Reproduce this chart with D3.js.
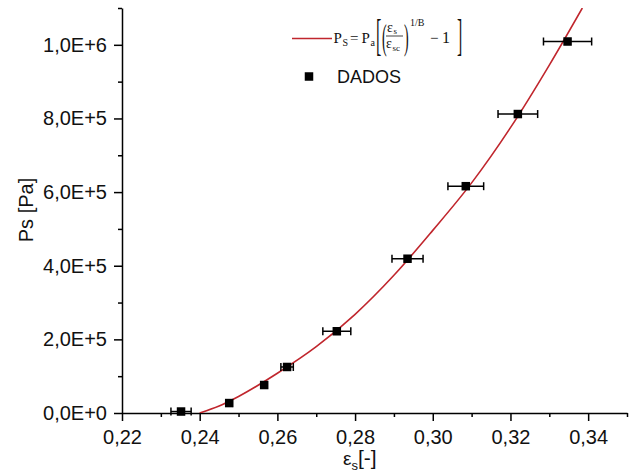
<!DOCTYPE html>
<html>
<head>
<meta charset="utf-8">
<script src="https://cdn.jsdelivr.net/npm/d3@7"></script>
<style>
  body { margin: 0; background: #fff; }
  svg { display: block; font-family: "Liberation Sans", Arial, sans-serif; }
</style>
</head>
<body>
<div id="chart"></div>
<script>
// measured points (porosity vs solid pressure)
const epsData = [0.2352, 0.2476, 0.2566, 0.2625, 0.2753, 0.2935, 0.3085, 0.3219, 0.3347];
const psData = [4000, 27000, 76000, 125000, 222000, 419000, 616000, 812000, 1009000];
const epsErr = [0.0026, 0.0008, 0.0008, 0.0016, 0.0036, 0.004, 0.0046, 0.0051, 0.0062];

// fitted curve
const fitEps = [0.24, 0.245, 0.25, 0.26, 0.27, 0.28, 0.29, 0.3, 0.31, 0.32, 0.33, 0.3385];
const fitPs = [0, 19000, 45000, 108000, 180000, 268000, 374000, 496000, 625000, 775000, 945000, 1100000];

const xTicks = [0.22, 0.24, 0.26, 0.28, 0.3, 0.32, 0.34];
const xTickLabels = ["0,22", "0,24", "0,26", "0,28", "0,30", "0,32", "0,34"];
const xMinor = [0.23, 0.25, 0.27, 0.29, 0.31, 0.33, 0.35];
const yTicks = [0, 200000, 400000, 600000, 800000, 1000000];
const yTickLabels = ["0,0E+0", "2,0E+5", "4,0E+5", "6,0E+5", "8,0E+5", "1,0E+6"];
const yMinor = [100000, 300000, 500000, 700000, 900000, 1100000];

const margin = { top: 8, right: 4, bottom: 60, left: 122 },
  width = 631 - margin.left - margin.right,
  height = 473 - margin.top - margin.bottom;

const root = d3
  .select("#chart")
  .append("svg")
  .attr("width", 631)
  .attr("height", 473);

const svg = root
  .append("g")
  .attr("transform", `translate(${margin.left},${margin.top})`);

const x = d3.scaleLinear().domain([0.22, 0.35]).range([0, width]);
const y = d3.scaleLinear().domain([0, 1100000]).range([height, 0]);

svg
  .append("defs")
  .append("clipPath")
  .attr("id", "clip")
  .append("rect")
  .attr("width", width)
  .attr("height", height);

// minor ticks
svg
  .append("g")
  .attr("class", "minor")
  .attr("transform", `translate(0, ${height})`)
  .call(d3.axisBottom(x).tickValues(xMinor).tickSize(4).tickFormat("").tickSizeOuter(0));
svg
  .append("g")
  .attr("class", "minor")
  .call(d3.axisLeft(y).tickValues(yMinor).tickSize(4).tickFormat("").tickSizeOuter(0));

// major axes
svg
  .append("g")
  .attr("transform", `translate(0, ${height})`)
  .call(
    d3.axisBottom(x)
      .tickValues(xTicks)
      .tickFormat((d, i) => xTickLabels[i])
      .tickSize(8)
      .tickPadding(9)
      .tickSizeOuter(0),
  );
svg.append("g").call(
  d3.axisLeft(y)
    .tickValues(yTicks)
    .tickFormat((d, i) => yTickLabels[i])
    .tickSize(8)
    .tickPadding(7)
    .tickSizeOuter(0),
);

svg.selectAll(".domain, .tick line").attr("stroke", "#000").attr("stroke-width", 1.5);
svg.selectAll(".minor .domain").remove();
svg
  .selectAll(".tick text")
  .attr("font-family", '"Liberation Sans", Arial, sans-serif')
  .attr("font-size", 20)
  .attr("fill", "#111");

// axis titles
const xt = svg
  .append("text")
  .attr("x", 221)
  .attr("y", 465 - margin.top)
  .attr("font-size", 21)
  .attr("fill", "#111");
xt.append("tspan").attr("font-size", 19).text("ε");
xt.append("tspan").attr("font-size", 13).attr("dy", 5).text("s");
xt.append("tspan").attr("dy", -5).text("[-]");

svg
  .append("text")
  .attr("transform", "rotate(-90)")
  .attr("x", -(210 - margin.top))
  .attr("y", 33 - margin.left)
  .attr("text-anchor", "middle")
  .attr("font-size", 20)
  .attr("fill", "#111")
  .text("Ps [Pa]");

// fitted curve
const line = d3
  .line()
  .x((d, i) => x(fitEps[i]))
  .y((d) => y(d))
  .curve(d3.curveMonotoneX);

svg
  .append("path")
  .datum(fitPs)
  .attr("clip-path", "url(#clip)")
  .attr("fill", "none")
  .attr("stroke", "#c0262d")
  .attr("stroke-width", 1.6)
  .attr("d", line);

// error bars
const pts = epsData.map((e, i) => ({ e: e, p: psData[i], err: epsErr[i] }));
const bars = svg.append("g").selectAll("g").data(pts).join("g");
bars
  .append("line")
  .attr("x1", (d) => x(d.e - d.err))
  .attr("x2", (d) => x(d.e + d.err))
  .attr("y1", (d) => y(d.p))
  .attr("y2", (d) => y(d.p));
bars
  .append("line")
  .attr("x1", (d) => x(d.e - d.err))
  .attr("x2", (d) => x(d.e - d.err))
  .attr("y1", (d) => y(d.p) - 4)
  .attr("y2", (d) => y(d.p) + 4);
bars
  .append("line")
  .attr("x1", (d) => x(d.e + d.err))
  .attr("x2", (d) => x(d.e + d.err))
  .attr("y1", (d) => y(d.p) - 4)
  .attr("y2", (d) => y(d.p) + 4);
bars.selectAll("line").attr("stroke", "#000").attr("stroke-width", 1.5);

// markers
const ms = 8.5;
svg
  .append("g")
  .selectAll("rect")
  .data(pts)
  .join("rect")
  .attr("x", (d) => x(d.e) - ms / 2)
  .attr("y", (d) => y(d.p) - ms / 2)
  .attr("width", ms)
  .attr("height", ms)
  .attr("fill", "#000");

// legend
const lg = root.append("g");
lg.append("line")
  .attr("x1", 292).attr("x2", 332)
  .attr("y1", 38.5).attr("y2", 38.5)
  .attr("stroke", "#c0262d")
  .attr("stroke-width", 1.6);

const serif = '"Liberation Serif", "DejaVu Serif", serif';
const ft = (tx, ty, size, str) =>
  lg.append("text")
    .attr("x", tx).attr("y", ty)
    .attr("font-family", serif)
    .attr("font-size", size)
    .attr("fill", "#111")
    .text(str);
// tall thin delimiters
const delim = (tx, ty, size, sy, str) =>
  lg.append("text")
    .attr("transform", `translate(${tx},${ty}) scale(1,${sy})`)
    .attr("font-family", serif)
    .attr("font-size", size)
    .attr("fill", "#111")
    .text(str);

ft(333.5, 42.5, 15, "P");
ft(342.5, 46, 10, "S");
ft(350, 42.5, 15, "=");
ft(361.5, 42.5, 15, "P");
ft(370.5, 46, 10, "a");
delim(376, 49.7, 16, 2.8, "[");
delim(382, 48.7, 14, 2.5, "(");
ft(387, 31.5, 14, "ε");
ft(393.5, 34, 9, "s");
lg.append("line")
  .attr("x1", 386).attr("x2", 403)
  .attr("y1", 36).attr("y2", 36)
  .attr("stroke", "#111").attr("stroke-width", 0.8);
ft(386, 48, 14, "ε");
ft(392.5, 50.5, 9, "sc");
delim(404, 48.7, 14, 2.5, ")");
ft(410, 25.5, 10, "1/B");
ft(430, 42.5, 15, "−");
ft(442, 42.5, 16, "1");
delim(457, 49.7, 16, 2.8, "]");

lg.append("rect")
  .attr("x", 309 - ms / 2)
  .attr("y", 76.5 - ms / 2)
  .attr("width", ms)
  .attr("height", ms)
  .attr("fill", "#000");
lg.append("text")
  .attr("x", 337)
  .attr("y", 82.5)
  .attr("font-size", 18)
  .attr("fill", "#111")
  .text("DADOS");
</script>
</body>
</html>
